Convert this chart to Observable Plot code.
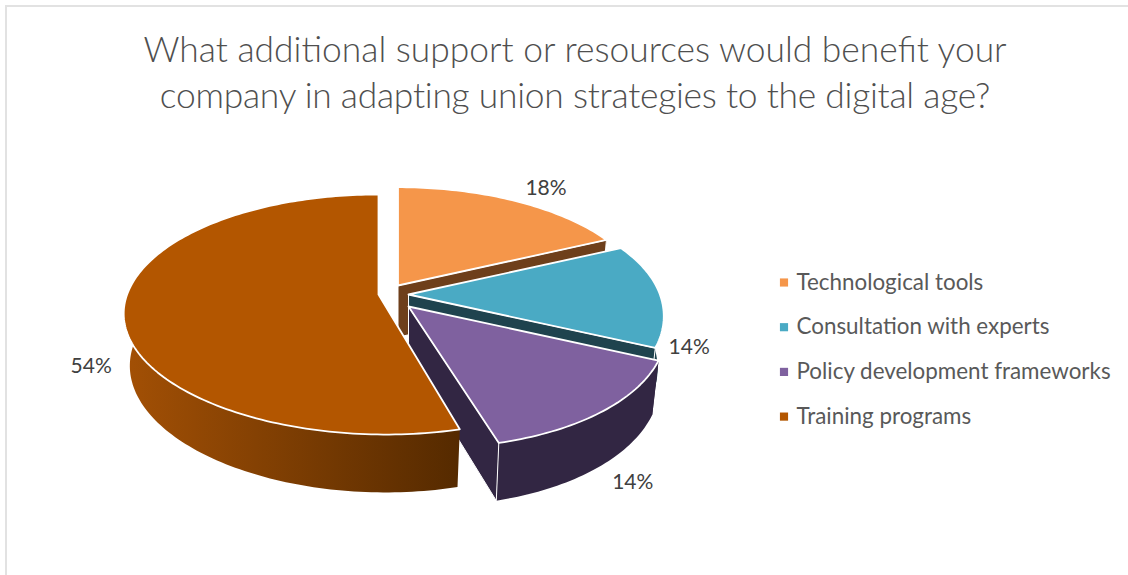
<!DOCTYPE html>
<html>
<head>
<meta charset="utf-8">
<script src="https://cdn.jsdelivr.net/npm/d3@7"></script>
<script src="https://cdn.jsdelivr.net/npm/@observablehq/plot@0.6"></script>
<style>
  html, body { margin: 0; background: #fff; }
  #chart { position: relative; width: 1128px; height: 575px; overflow: hidden; }
  #frame { position: absolute; left: 5px; top: 5px; width: 1130px; height: 600px; border: 2px solid #e2e2e2; box-sizing: border-box; }
  #title { position: relative; height: 130px; box-sizing: border-box; padding: 26px 0 0 22px; text-align: center;
           font: 300 35.4px/46px Lato, sans-serif; color: #4f4f4f; }
  #title span { white-space: nowrap; }
  #second { letter-spacing: -0.25px; }
  svg { display: block; background: transparent; }
</style>
</head>
<body>
<div id="chart">
  <div id="frame"></div>
  <div id="title"><span>What additional support or resources would benefit your</span><br><span id="second">company in adapting union strategies to the digital age?</span></div>
</div>
<script>
// Survey answers, in clockwise order from twelve o'clock.
const categories = ["Technological tools", "Consultation with experts", "Policy development frameworks", "Training programs"];
const percents = [18, 14, 14, 54];
const topColors = ["#f5964a", "#4aaac4", "#7f619f", "#b35600"];
const sideColors = ["#6e3f1b", "#1f434e", "#322643", "#552a00"];

// Layout of the exploded tilted pie, in page pixels.
const apexes = [[397.5, 285], [408, 294], [408, 306], [378, 294]];
const rimScale = [0.98, 1, 1.01, 1];
const yawBySlice = [10, 10, 13, 6];
const labelRim = [0.5, 0.9, 0.8, 0.35];
const labelShift = [[32, -12], [29, 10], [87, 49], [-65, -5]];
const radiusX = 251.4, radiusY = 116.7, thickness = 53;
const tilt = 1 / 6, sink = 0.024;
const headerHeight = 130;

// Perspective projection of a point on the wedge's disc (top or bottom face).
function project(i, angle, r, bottom) {
  const apex = apexes[i];
  const u = r * rimScale[i] * Math.sin(angle), v = -r * rimScale[i] * Math.cos(angle);
  const w = 1 - tilt * v + (bottom ? sink : 0);
  return {
    x: apex[0] + (radiusX * u + yawBySlice[i] * Math.max(0, v) ** 2) / w,
    y: apex[1] + (radiusY * v + (bottom ? thickness : 0)) / w
  };
}

function arc(i, a0, a1, bottom) {
  const n = Math.max(2, Math.ceil(Math.abs(a1 - a0) / 0.02));
  return d3.range(n + 1).map(k => project(i, a0 + (a1 - a0) * k / n, 1, bottom));
}

const closed = pts => [...pts, pts[0]];
const polygon = (pts, fill, stroke, strokeWidth) =>
  Plot.line(closed(pts), {x: "x", y: "y", fill, stroke, strokeWidth, strokeLinejoin: "round", curve: "linear"});

// Running totals turn the percentages into wedge angles.
const total = d3.sum(percents);
const cumulative = d3.cumsum(percents);
const wedges = percents.map((p, i) => ({
  a0: (cumulative[i] - p) / total * 2 * Math.PI,
  a1: cumulative[i] / total * 2 * Math.PI
}));

const marks = [];
const trainingIndex = 3;

wedges.forEach((d, i) => {
  const apexTop = {x: apexes[i][0], y: apexes[i][1]};
  const apexBottom = project(i, 0, 0, true);
  const top = arc(i, d.a0, d.a1, false);
  const under = arc(i, d.a0, d.a1, true);
  const wall = [...top, ...[...under].reverse()];
  if (i === trainingIndex) {
    // The long outer wall is shaded from left to right.
    const xMin = d3.min(top, p => p.x), xMax = d3.max(top, p => p.x);
    marks.push(() => {
      const defs = d3.create("svg:defs");
      const gradient = defs.append("linearGradient")
        .attr("id", "wallShade")
        .attr("gradientUnits", "userSpaceOnUse")
        .attr("x1", xMin).attr("x2", xMax).attr("y1", 0).attr("y2", 0);
      gradient.append("stop").attr("offset", 0).attr("stop-color", "#a35005");
      gradient.append("stop").attr("offset", 1).attr("stop-color", sideColors[i]);
      return defs.node();
    });
    marks.push(polygon(wall, "url(#wallShade)", "none", 0));
  } else {
    // Hidden cut face, outer wall, then the cut face that shows.
    marks.push(polygon([apexTop, top[0], under[0], apexBottom], sideColors[i], "none", 0));
    marks.push(polygon(wall, sideColors[i], "none", 0));
    marks.push(polygon([apexTop, top[top.length - 1], under[under.length - 1], apexBottom], sideColors[i], "#fff", 1));
  }
  marks.push(polygon([apexTop, ...top], topColors[i], "#fff", 1.8));
});

// Value labels sit just outside the rim of each wedge.
const labelRows = wedges.map((d, i) => {
  const p = project(i, d.a0 + (d.a1 - d.a0) * labelRim[i], 1, false);
  return {x: p.x + labelShift[i][0], y: p.y + labelShift[i][1], text: `${percents[i]}%`};
});
marks.push(Plot.text(labelRows, {
  x: "x", y: "y", text: "text", fontSize: 21, fontFamily: "Lato, sans-serif", fill: "#404040"
}));

// Legend to the right of the pie.
const legendX = 783.5, legendTop = 282, legendStep = 44.7;
const legendRows = categories.map((name, i) => ({
  name, color: topColors[i], x: legendX, y: legendTop + i * legendStep
}));
marks.push(Plot.dot(legendRows, {
  x: "x", y: "y", symbol: "square", r: 4.6, fill: {value: "color", scale: null}, stroke: "none"
}));
marks.push(Plot.text(legendRows, {
  x: "x", y: "y", dx: 12.5, text: "name", textAnchor: "start",
  fontSize: 22.4, fontFamily: "Lato, sans-serif", fill: "#595959"
}));

const plot = Plot.plot({
  width: 1128,
  height: 575 - headerHeight,
  margin: 0,
  x: {domain: [0, 1128], range: [0, 1128], axis: null},
  y: {domain: [headerHeight, 575], range: [0, 575 - headerHeight], axis: null},
  style: {background: "transparent", overflow: "visible", position: "relative"},
  marks
});
document.getElementById("chart").appendChild(plot);
</script>
</body>
</html>
